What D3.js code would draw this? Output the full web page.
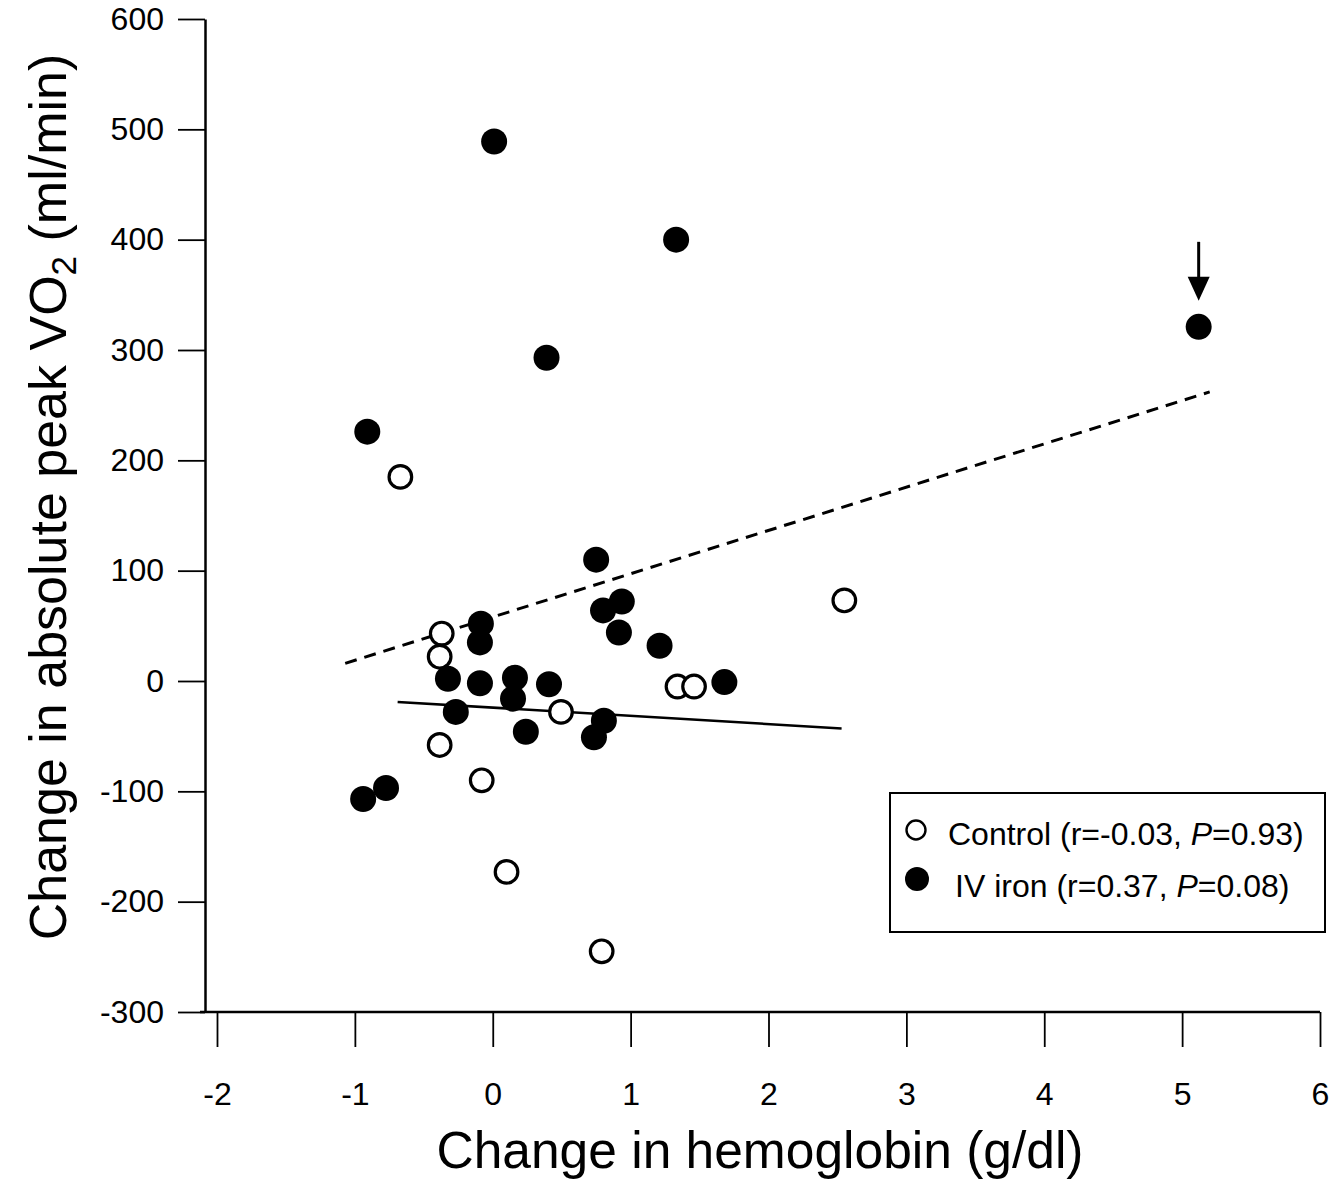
<!DOCTYPE html>
<html>
<head>
<meta charset="utf-8">
<script src="https://cdn.jsdelivr.net/npm/d3@7"></script>
<style>
  html, body { margin: 0; padding: 0; background: #fff; }
  svg { display: block; }
  text { font-family: "Liberation Sans", Arial, Helvetica, sans-serif; fill: #000; }
</style>
</head>
<body>
<svg id="chart" width="1342" height="1179"></svg>
<script>
// ---- data ----
const xTicks = [-2, -1, 0, 1, 2, 3, 4, 5, 6];
const yTicks = [-300, -200, -100, 0, 100, 200, 300, 400, 500, 600];

const controlX = [-0.67, -0.37, -0.385, 0.495, -0.385, -0.08, 0.10, 0.79, 1.34, 1.46, 2.55];
const controlY = [185, 43, 22, -28, -58, -90, -173, -245, -5, -5, 73];

const ironX = [0.01, 1.33, 5.12, 0.39, -0.91, 0.75, 0.80, 0.936, 0.915, 1.21, -0.086, -0.093, -0.325, -0.093, 0.161, 0.147, 0.408, -0.268, 0.24, 0.806, 0.734, 1.68, -0.774, -0.94];
const ironY = [489, 400, 321, 293, 226, 110, 64, 72, 44, 32, 52, 35, 2, -2, 3, -16, -3, -28, -46, -36, -51, -1, -97, -107];

const ironFitX = [-1.07, 5.20];
const ironFitY = [16, 262];
const controlFitX = [-0.69, 2.53];
const controlFitY = [-19, -43];

const legendLabels = [
  { name: "Control (r=-0.03, ", p: "P", rest: "=0.93)" },
  { name: "IV iron (r=0.37, ", p: "P", rest: "=0.08)" }
];
const xTitle = "Change in hemoglobin (g/dl)";

// ---- layout ----
const svg = d3.select("#chart");
const x = d3.scaleLinear().domain([-2.087, 6]).range([205, 1320]);
const y = d3.scaleLinear().domain([-300, 600]).range([1012, 19]);
const fmt = d => String(d);

// x axis
const xAxis = svg.append("g")
  .attr("transform", `translate(0,${y(-300)})`)
  .call(d3.axisBottom(x).tickValues(xTicks).tickSize(35).tickSizeOuter(0).tickPadding(35).tickFormat(fmt));
xAxis.select(".domain").attr("d", `M200,0H${x(6)}`).attr("stroke", "#000").attr("stroke-width", 2.5);
xAxis.selectAll(".tick line").attr("stroke", "#000").attr("stroke-width", 1.8);
xAxis.selectAll(".tick text").attr("font-size", 32).attr("font-family", "Liberation Sans, Arial, sans-serif").attr("fill", "#000");

// y axis
const yAxis = svg.append("g")
  .attr("transform", `translate(${x.range()[0]},0)`)
  .call(d3.axisLeft(y).tickValues(yTicks).tickSize(27).tickSizeOuter(0).tickPadding(14).tickFormat(fmt));
yAxis.select(".domain").attr("stroke", "#000").attr("stroke-width", 2.5);
yAxis.selectAll(".tick line").attr("stroke", "#000").attr("stroke-width", 1.8);
yAxis.selectAll(".tick text").attr("font-size", 32).attr("font-family", "Liberation Sans, Arial, sans-serif").attr("fill", "#000");

// axis titles
svg.append("text")
  .attr("x", 760).attr("y", 1168)
  .attr("text-anchor", "middle")
  .attr("font-size", 51.5)
  .text(xTitle);

const yt = svg.append("text")
  .attr("transform", "translate(66,497) rotate(-90)")
  .attr("text-anchor", "middle")
  .attr("font-size", 52);
yt.append("tspan").text("Change in absolute peak VO");
yt.append("tspan").attr("font-size", 35).attr("dy", 10).text("2");
yt.append("tspan").attr("dy", -10).text(" (ml/min)");

// regression lines
const line = d3.line().x(d => x(d[0])).y(d => y(d[1]));
svg.append("path")
  .attr("d", line(d3.zip(ironFitX, ironFitY)))
  .attr("fill", "none").attr("stroke", "#000").attr("stroke-width", 3)
  .attr("stroke-dasharray", "12,8");
svg.append("path")
  .attr("d", line(d3.zip(controlFitX, controlFitY)))
  .attr("fill", "none").attr("stroke", "#000").attr("stroke-width", 2.6);

// points
svg.append("g").selectAll("circle")
  .data(d3.zip(ironX, ironY))
  .join("circle")
  .attr("cx", d => x(d[0])).attr("cy", d => y(d[1]))
  .attr("r", 13).attr("fill", "#000");

svg.append("g").selectAll("circle")
  .data(d3.zip(controlX, controlY))
  .join("circle")
  .attr("cx", d => x(d[0])).attr("cy", d => y(d[1]))
  .attr("r", 11.3).attr("fill", "#fff").attr("stroke", "#000").attr("stroke-width", 3.2);

// arrow pointing to the outlier
const ax = x(ironX[2]), ay = y(ironY[2]);
svg.append("line")
  .attr("x1", ax).attr("x2", ax).attr("y1", ay - 85).attr("y2", ay - 46)
  .attr("stroke", "#000").attr("stroke-width", 3);
svg.append("path")
  .attr("d", `M${ax - 11},${ay - 50}L${ax + 11},${ay - 50}L${ax},${ay - 26}Z`)
  .attr("fill", "#000");

// legend
const lg = svg.append("g");
lg.append("rect")
  .attr("x", 890).attr("y", 793).attr("width", 435).attr("height", 139)
  .attr("fill", "#fff").attr("stroke", "#000").attr("stroke-width", 2);
lg.append("circle").attr("cx", 916).attr("cy", 830).attr("r", 9.5)
  .attr("fill", "#fff").attr("stroke", "#000").attr("stroke-width", 2.4);
lg.append("circle").attr("cx", 917).attr("cy", 879).attr("r", 12).attr("fill", "#000");
const lx = [948, 955], ly = [845, 897];
legendLabels.forEach((l, i) => {
  const t = lg.append("text").attr("x", lx[i]).attr("y", ly[i]).attr("font-size", 32);
  t.append("tspan").text(l.name);
  t.append("tspan").attr("font-style", "italic").text(l.p);
  t.append("tspan").text(l.rest);
});
</script>
</body>
</html>
